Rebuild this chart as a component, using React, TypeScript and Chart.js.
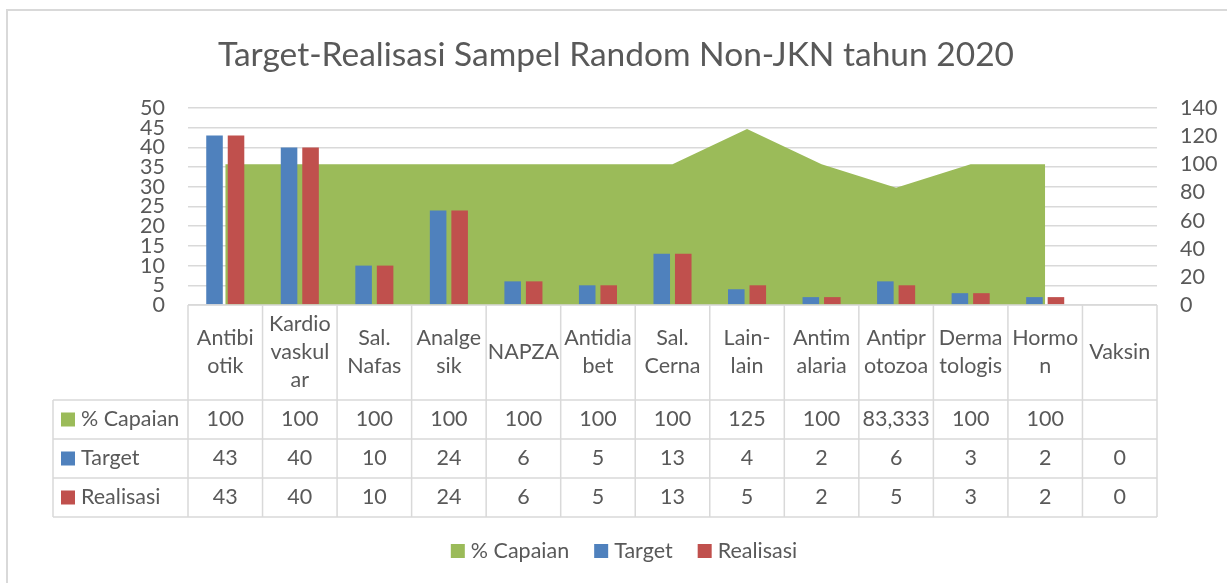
import React, { useEffect, useRef } from "react";
import { Chart, registerables } from "chart.js";

Chart.register(...registerables);

const TITLE = "Target-Realisasi Sampel Random Non-JKN tahun 2020";
const categories: string[][] = [
  ["Antibi", "otik"],
  ["Kardio", "vaskul", "ar"],
  ["Sal.", "Nafas"],
  ["Analge", "sik"],
  ["NAPZA"],
  ["Antidia", "bet"],
  ["Sal.", "Cerna"],
  ["Lain-", "lain"],
  ["Antim", "alaria"],
  ["Antipr", "otozoa"],
  ["Derma", "tologis"],
  ["Hormo", "n"],
  ["Vaksin"],
];
const capaian: (number | null)[] = [100, 100, 100, 100, 100, 100, 100, 125, 100, 83.333, 100, 100, null];
const capaianLabels: string[] = ["100", "100", "100", "100", "100", "100", "100", "125", "100", "83,333", "100", "100", ""];
const target: number[] = [43, 40, 10, 24, 6, 5, 13, 4, 2, 6, 3, 2, 0];
const realisasi: number[] = [43, 40, 10, 24, 6, 5, 13, 5, 2, 5, 3, 2, 0];
const seriesNames: string[] = ["% Capaian", "Target", "Realisasi"];
const seriesColors: string[] = ["#9BBB59", "#4F81BD", "#C0504D"];

const FONT = "Lato, 'Open Sans', sans-serif";
const TEXT = "#595959";
const GRID = "#D9D9D9";
const FS = 21.5;

const decorPlugin = {
  id: "decor",
  beforeDraw(chart: any) {
    const ctx = chart.ctx;
    ctx.save();
    ctx.fillStyle = "#fff";
    ctx.fillRect(0, 0, chart.width, chart.height);
    ctx.strokeStyle = GRID;
    ctx.lineWidth = 2;
    ctx.strokeRect(7, 10, chart.width + 20, chart.height + 20);
    ctx.fillStyle = TEXT;
    ctx.font = `33.5px ${FONT}`;
    ctx.textAlign = "center";
    ctx.textBaseline = "alphabetic";
    ctx.fillText(TITLE, 616, 66);
    ctx.restore();
  },
  afterDraw(chart: any) {
    const ctx = chart.ctx;
    const xs = chart.scales.x;
    const area = chart.chartArea;
    const n = categories.length;
    const colW = (area.right - area.left) / n;
    const top = area.bottom;
    const headerBottom = top + 95;
    const rowH = 39;
    const tableBottom = headerBottom + rowH * 3;
    const legendLeft = 53;
    ctx.save();
    ctx.strokeStyle = GRID;
    ctx.lineWidth = 1.5;
    ctx.beginPath();
    ctx.moveTo(area.left, top);
    ctx.lineTo(area.right, top);
    for (let r = 0; r <= 3; r++) {
      const y = headerBottom + r * rowH;
      ctx.moveTo(legendLeft, y);
      ctx.lineTo(area.right, y);
    }
    for (let i = 0; i <= n; i++) {
      const x = area.left + i * colW;
      ctx.moveTo(x, top);
      ctx.lineTo(x, tableBottom);
    }
    ctx.moveTo(legendLeft, headerBottom);
    ctx.lineTo(legendLeft, tableBottom);
    ctx.stroke();

    ctx.fillStyle = TEXT;
    ctx.font = `${FS}px ${FONT}`;
    ctx.textAlign = "center";
    ctx.textBaseline = "middle";
    const lh = 28;
    const hc = (top + headerBottom) / 2;
    categories.forEach((lines, i) => {
      const cx = xs.getPixelForValue(i);
      const y0 = hc - ((lines.length - 1) * lh) / 2;
      lines.forEach((t, k) => ctx.fillText(t, cx, y0 + k * lh));
    });
    const rows = [capaianLabels, target.map(String), realisasi.map(String)];
    rows.forEach((vals, r) => {
      const cy = headerBottom + r * rowH + rowH / 2;
      vals.forEach((v, i) => {
        ctx.fillText(v, xs.getPixelForValue(i), cy);
      });
      ctx.fillStyle = seriesColors[r];
      ctx.fillRect(61, cy - 7, 14, 14);
      ctx.fillStyle = TEXT;
      ctx.textAlign = "left";
      ctx.fillText(seriesNames[r], 81, cy);
      ctx.textAlign = "center";
    });

    ctx.textAlign = "left";
    const sq = 14, gapT = 6, gapI = 25;
    const widths = seriesNames.map((s) => sq + gapT + ctx.measureText(s).width);
    const total = widths.reduce((a, b) => a + b, 0) + gapI * (widths.length - 1);
    let x = 624 - total / 2;
    const ly = 551;
    seriesNames.forEach((s, i) => {
      ctx.fillStyle = seriesColors[i];
      ctx.fillRect(x, ly - 7, sq, sq);
      ctx.fillStyle = TEXT;
      ctx.fillText(s, x + sq + gapT, ly);
      x += widths[i] + gapI;
    });
    ctx.restore();
  },
};

export default function App() {
  const ref = useRef<HTMLCanvasElement>(null);
  useEffect(() => {
    document.body.style.margin = "0";
    const fixW = (w: number) => (scale: any) => {
      scale.width = w;
    };
    const chart = new Chart(ref.current as HTMLCanvasElement, {
      type: "bar",
      data: {
        labels: categories.map((c) => c.join("")),
        datasets: [
          {
            type: "line",
            label: seriesNames[0],
            data: capaian,
            yAxisID: "y1",
            backgroundColor: seriesColors[0],
            borderColor: seriesColors[0],
            borderWidth: 0,
            pointRadius: 0,
            fill: "origin",
            tension: 0,
            order: 2,
          } as any,
          {
            label: seriesNames[1],
            data: target,
            yAxisID: "y",
            backgroundColor: seriesColors[1],
            borderWidth: 0,
            categoryPercentage: 0.577,
            barPercentage: 0.77,
            order: 1,
          },
          {
            label: seriesNames[2],
            data: realisasi,
            yAxisID: "y",
            backgroundColor: seriesColors[2],
            borderWidth: 0,
            categoryPercentage: 0.577,
            barPercentage: 0.77,
            order: 1,
          },
        ],
      },
      options: {
        animation: false,
        responsive: false,
        layout: { padding: { left: 128, right: 10, top: 108, bottom: 278 } },
        plugins: { legend: { display: false }, title: { display: false }, tooltip: { enabled: false } },
        scales: {
          x: { display: false },
          y: {
            position: "left",
            min: 0,
            max: 50,
            afterFit: fixW(60),
            border: { display: false },
            grid: { color: GRID, lineWidth: 1.5, drawTicks: false },
            ticks: { stepSize: 5, autoSkip: false, padding: 23, color: TEXT, font: { family: FONT, size: FS } },
          },
          y1: {
            position: "right",
            min: 0,
            max: 140,
            afterFit: fixW(60),
            border: { display: false },
            grid: { display: false, drawTicks: false },
            ticks: { stepSize: 20, autoSkip: false, padding: 23, color: TEXT, font: { family: FONT, size: FS } },
          },
        },
      },
      plugins: [decorPlugin],
    });
    return () => chart.destroy();
  }, []);
  return (
    <div style={{ width: 1227, height: 583 }}>
      <canvas ref={ref} width={1227} height={583} />
    </div>
  );
}
